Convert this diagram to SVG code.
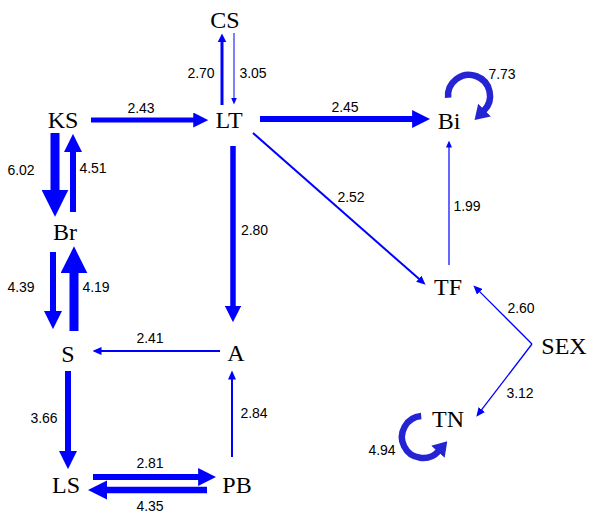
<svg xmlns="http://www.w3.org/2000/svg" width="597" height="514" viewBox="0 0 597 514">
  <style>
    .node { font-family: "Liberation Serif", "Times New Roman", serif; font-size: 24px; fill: #000; text-anchor: middle; }
    .lbl { font-family: "Liberation Sans", Arial, sans-serif; font-size: 14px; fill: #000; text-anchor: middle; }
    .e { stroke: #0000ff; fill: none; }
    .thick { marker-end: url(#head); }
    .thin { marker-end: url(#small); }
    .fine { marker-end: url(#tiny); }
    .loop { stroke: #2424d4; fill: none; stroke-width: 6.5; marker-end: url(#loopHead); }
  </style>
  <defs>
    <!-- head scaled by stroke width: 3w long, 3w wide -->
    <marker id="head" viewBox="0 0 10 10" refX="0.5" refY="5" markerWidth="3" markerHeight="3" markerUnits="strokeWidth" orient="auto">
      <path d="M0,0 L10,5 L0,10 z" fill="#0000ff"/>
    </marker>
    <marker id="small" viewBox="0 0 9 8" refX="0.5" refY="4" markerWidth="9" markerHeight="8" markerUnits="userSpaceOnUse" orient="auto">
      <path d="M0,0 L9,4 L0,8 z" fill="#0000ff"/>
    </marker>
    <marker id="tiny" viewBox="0 0 7 6" refX="0.5" refY="3" markerWidth="7" markerHeight="6" markerUnits="userSpaceOnUse" orient="auto">
      <path d="M0,0 L7,3 L0,6 z" fill="#0000ff"/>
    </marker>
    <marker id="loopHead" viewBox="0 0 14 18" refX="1" refY="9" markerWidth="14" markerHeight="18" markerUnits="userSpaceOnUse" orient="auto">
      <path d="M0,0 L14,9 L0,18 z" fill="#2424d4"/>
    </marker>
  </defs>

  <g id="connectors">
    <!-- LT <-> CS -->
    <line class="e thick" x1="222" y1="105" x2="222" y2="42" stroke-width="3"/>
    <line class="e fine" x1="234" y1="33" x2="234" y2="98" stroke-width="1"/>
    <!-- KS -> LT -->
    <line class="e thick" x1="91" y1="120" x2="194" y2="120" stroke-width="5"/>
    <!-- LT -> Bi -->
    <line class="e thick" x1="260" y1="119" x2="413" y2="119" stroke-width="6"/>
    <!-- LT -> TF -->
    <line class="e thin" x1="253" y1="133" x2="419.2" y2="279.1" stroke-width="2"/>
    <!-- LT -> A -->
    <line class="e thick" x1="233" y1="146" x2="233" y2="306.5" stroke-width="5.5"/>
    <!-- KS <-> Br -->
    <line class="e thick" x1="55" y1="133" x2="55" y2="191" stroke-width="9"/>
    <line class="e thick" x1="73" y1="212" x2="73" y2="151" stroke-width="6"/>
    <!-- Br <-> S -->
    <line class="e thick" x1="53" y1="252" x2="53" y2="312" stroke-width="6"/>
    <line class="e thick" x1="74" y1="331" x2="74" y2="272" stroke-width="9"/>
    <!-- A -> S -->
    <line class="e thin" x1="220" y1="351" x2="101" y2="351" stroke-width="2"/>
    <!-- S -> LS -->
    <line class="e thick" x1="68" y1="371" x2="68" y2="452" stroke-width="6"/>
    <!-- PB -> A -->
    <line class="e thin" x1="232" y1="457" x2="232" y2="379" stroke-width="2"/>
    <!-- LS <-> PB -->
    <line class="e thick" x1="93" y1="477" x2="199" y2="477" stroke-width="6"/>
    <line class="e thick" x1="207" y1="490" x2="106.5" y2="490" stroke-width="6.5"/>
    <!-- TF -> Bi -->
    <line class="e fine" x1="449" y1="265" x2="449" y2="147" stroke-width="1.2"/>
    <!-- SEX -> TF, SEX -> TN -->
    <line class="e thin" x1="532" y1="344" x2="479.4" y2="291.4" stroke-width="1.3"/>
    <line class="e thin" x1="532" y1="344" x2="481.5" y2="409.9" stroke-width="1.3"/>
    <!-- self loops -->
    <path class="loop" d="M448.1,97.8 A21,21 0 1 1 483.8,110.8"/>
    <path class="loop" d="M421.2,416.1 A21,21 0 1 0 438.6,451.05"/>
  </g>

  <g id="edge-labels">
    <text class="lbl" x="201" y="78">2.70</text>
    <text class="lbl" x="253" y="78">3.05</text>
    <text class="lbl" x="141" y="113">2.43</text>
    <text class="lbl" x="345" y="112">2.45</text>
    <text class="lbl" x="351" y="202">2.52</text>
    <text class="lbl" x="254.5" y="235">2.80</text>
    <text class="lbl" x="21" y="175">6.02</text>
    <text class="lbl" x="93" y="173">4.51</text>
    <text class="lbl" x="21" y="292">4.39</text>
    <text class="lbl" x="96" y="292">4.19</text>
    <text class="lbl" x="150" y="343">2.41</text>
    <text class="lbl" x="44" y="423">3.66</text>
    <text class="lbl" x="254" y="418">2.84</text>
    <text class="lbl" x="150" y="468">2.81</text>
    <text class="lbl" x="150" y="511">4.35</text>
    <text class="lbl" x="502" y="79">7.73</text>
    <text class="lbl" x="382" y="455">4.94</text>
    <text class="lbl" x="467" y="211">1.99</text>
    <text class="lbl" x="521" y="313">2.60</text>
    <text class="lbl" x="520" y="398">3.12</text>
  </g>

  <g id="node-CS"><text class="node" x="225" y="28">CS</text></g>
  <g id="node-LT"><text class="node" x="229" y="128">LT</text></g>
  <g id="node-KS"><text class="node" x="63" y="128">KS</text></g>
  <g id="node-Br"><text class="node" x="65" y="240">Br</text></g>
  <g id="node-S"><text class="node" x="68" y="362">S</text></g>
  <g id="node-A"><text class="node" x="236" y="361">A</text></g>
  <g id="node-LS"><text class="node" x="66" y="493">LS</text></g>
  <g id="node-PB"><text class="node" x="237" y="493">PB</text></g>
  <g id="node-Bi"><text class="node" x="449" y="129">Bi</text></g>
  <g id="node-TF"><text class="node" x="448" y="295">TF</text></g>
  <g id="node-SEX"><text class="node" x="564" y="354">SEX</text></g>
  <g id="node-TN"><text class="node" x="448" y="427">TN</text></g>
</svg>
